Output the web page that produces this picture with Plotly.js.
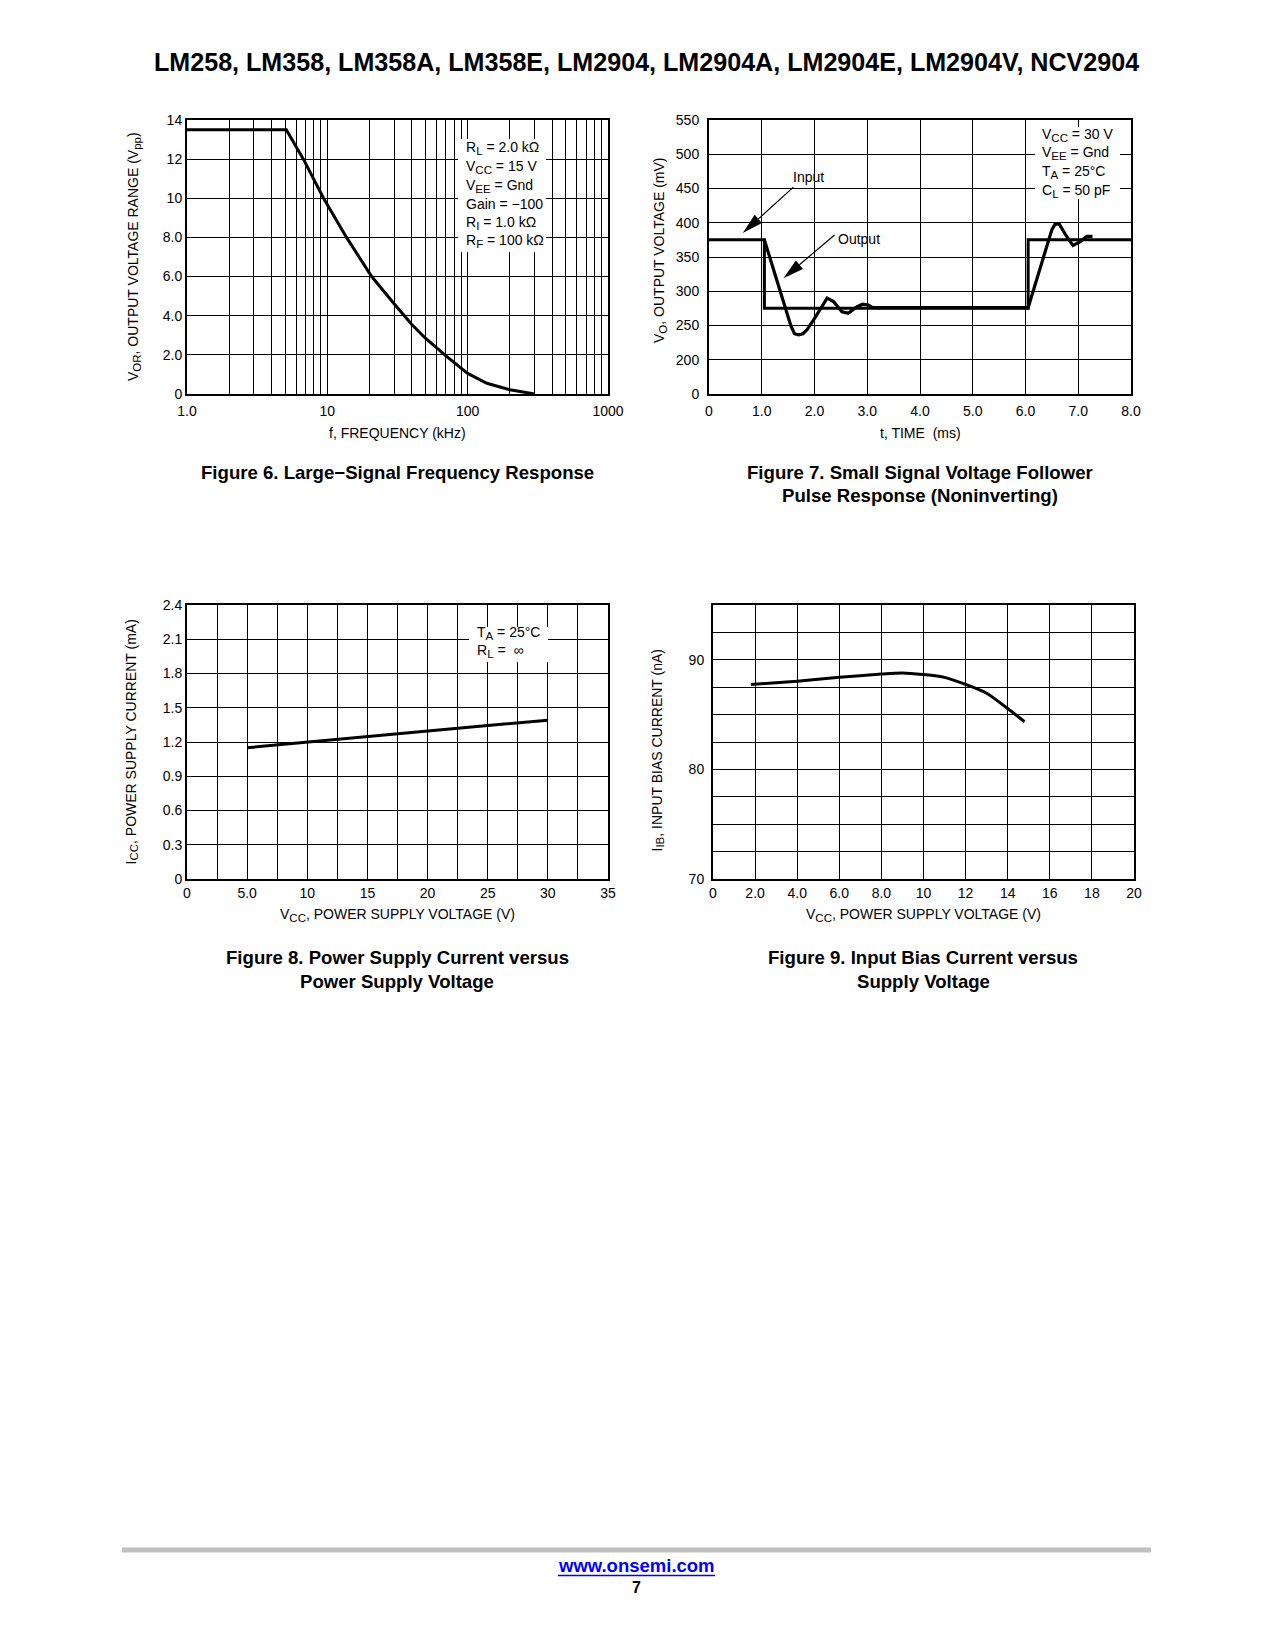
<!DOCTYPE html>
<html><head><meta charset="utf-8">
<script src="https://cdn.plot.ly/plotly-3.0.1.min.js"></script>
<style>html,body{margin:0;padding:0;background:#fff;}#chart{width:1275px;height:1650px;}</style>
</head><body><div id="chart"></div>
<script>
// ---------- DATA ----------
// Figure 6: Large-signal frequency response
const f6_freq = [1.0, 5.1, 6.75, 9.4, 13.7, 20.7, 30, 40, 50, 70, 100, 137, 200, 300];
const f6_vor  = [13.5, 13.5, 12.0, 10.0, 8.0, 6.0, 4.6, 3.55, 2.85, 1.95, 1.05, 0.55, 0.22, 0.0];
// Figure 7: Small signal voltage follower pulse response
const f7_t_in  = [0, 1.05, 1.05, 6.05, 6.05, 8.0];
const f7_v_in  = [375, 375, 275, 275, 375, 375];
const f7_t_out = [1.05, 1.55, 1.62, 1.7, 1.78, 1.85, 1.98, 2.14, 2.24, 2.36, 2.52, 2.64, 2.8, 2.91, 3.02, 3.1, 6.05, 6.5, 6.56, 6.64, 6.78, 6.9, 7.03, 7.16, 7.27];
const f7_v_out = [375, 250, 238, 236.5, 238, 243, 258, 277, 290, 285, 270, 268, 277, 281, 280, 276, 276, 390, 398, 398, 380, 367, 372, 380, 380];
// Figure 8: Power supply current vs supply voltage
const f8_vcc = [5, 10, 15, 20, 25, 30];
const f8_icc = [1.15, 1.20, 1.25, 1.30, 1.345, 1.39];
// Figure 9: Input bias current vs supply voltage
const f9_vcc = [1.8, 4.0, 6.0, 8.0, 9.0, 10.0, 11.0, 12.0, 13.0, 14.0, 14.8];
const f9_ib  = [87.75, 88.05, 88.4, 88.7, 88.8, 88.65, 88.4, 87.75, 86.95, 85.55, 84.35];

// ---------- TICKS ----------
const f6_xticks = [1, 10, 100, 1000];
const f6_xlabels = ["1.0", "10", "100", "1000"];
const f6_xminor = [2, 3, 4, 5, 6, 7, 8, 9, 20, 30, 40, 50, 60, 70, 80, 90, 200, 300, 400, 500, 600, 700, 800, 900];
const f6_yticks = [0, 2, 4, 6, 8, 10, 12, 14];
const f6_ylabels = ["0", "2.0", "4.0", "6.0", "8.0", "10", "12", "14"];
const f7_xticks = [0, 1, 2, 3, 4, 5, 6, 7, 8];
const f7_xlabels = ["0", "1.0", "2.0", "3.0", "4.0", "5.0", "6.0", "7.0", "8.0"];
const f7_yticks = [150, 200, 250, 300, 350, 400, 450, 500, 550];
const f7_ylabels = ["0", "200", "250", "300", "350", "400", "450", "500", "550"];
const f8_xticks = [0, 5, 10, 15, 20, 25, 30, 35];
const f8_xlabels = ["0", "5.0", "10", "15", "20", "25", "30", "35"];
const f8_xminor = [2.5, 7.5, 12.5, 17.5, 22.5, 27.5, 32.5];
const f8_yticks = [0, 0.3, 0.6, 0.9, 1.2, 1.5, 1.8, 2.1, 2.4];
const f8_ylabels = ["0", "0.3", "0.6", "0.9", "1.2", "1.5", "1.8", "2.1", "2.4"];
const f9_xticks = [0, 2, 4, 6, 8, 10, 12, 14, 16, 18, 20];
const f9_xlabels = ["0", "2.0", "4.0", "6.0", "8.0", "10", "12", "14", "16", "18", "20"];
const f9_yticks = [70, 80, 90];
const f9_ylabels = ["70", "80", "90"];
const f9_yminor = [72.5, 75, 77.5, 82.5, 85, 87.5, 92.5];

// ---------- LAYOUT HELPERS ----------
const W = 1275, H = 1650;
const FONT = "'Liberation Sans', Arial, Helvetica, sans-serif";
const px = x => x / W, py = y => 1 - y / H;
const dX = (a, b) => [px(a), px(b)];
const dY = (top, bot) => [py(bot), py(top)];
const S = s => `<sub><span style="font-size:11.5px">${s}</span></sub>`;

function minor(vals) {
  return {tickmode: 'array', tickvals: vals, showgrid: true, gridcolor: '#000', gridwidth: 1, ticks: ''};
}
function axis(dom, range, tv, tt, anchor, extra) {
  return Object.assign({
    domain: dom, range: range, tickmode: 'array', tickvals: tv, ticktext: tt,
    showgrid: true, gridcolor: '#000', gridwidth: 1, showline: true, mirror: true,
    linecolor: '#000', linewidth: 2, zeroline: false, ticks: '', anchor: anchor,
    tickfont: {family: FONT, size: 14, color: '#000'}, fixedrange: true
  }, extra || {});
}

const line = {color: '#000', width: 3};
const traces = [
  {x: f6_freq, y: f6_vor, xaxis: 'x', yaxis: 'y', mode: 'lines', line: line, hoverinfo: 'skip'},
  {x: f7_t_in, y: f7_v_in, xaxis: 'x2', yaxis: 'y2', mode: 'lines', line: line, hoverinfo: 'skip'},
  {x: f7_t_out, y: f7_v_out, xaxis: 'x2', yaxis: 'y2', mode: 'lines', line: {color: '#000', width: 3.2}, hoverinfo: 'skip'},
  {x: f8_vcc, y: f8_icc, xaxis: 'x3', yaxis: 'y3', mode: 'lines', line: line, hoverinfo: 'skip'},
  {x: f9_vcc, y: f9_ib, xaxis: 'x4', yaxis: 'y4', mode: 'lines', line: {color: '#000', width: 3, shape: 'spline', smoothing: 0.6}, hoverinfo: 'skip'}
];

const ann = [];
function T(x, y, text, o) {
  ann.push(Object.assign({xref: 'paper', yref: 'paper', x: px(x), y: py(y), text: text, showarrow: false,
    xanchor: 'center', yanchor: 'middle', font: {family: FONT, size: 14, color: '#000'}}, o || {}));
}

// header
T(646.5, 62, "<b>LM258, LM358, LM358A, LM358E, LM2904, LM2904A, LM2904E, LM2904V, NCV2904</b>", {font: {family: FONT, size: 25.1, color: '#000'}});
// captions
const capF = {font: {family: FONT, size: 18.6, color: '#000'}};
T(397, 472, "<b>Figure 6. Large\u2212Signal Frequency Response</b>", capF);
T(920, 472, "<b>Figure 7. Small Signal Voltage Follower</b>", capF);
T(920, 495.5, "<b>Pulse Response (Noninverting)</b>", capF);
T(397, 958, "<b>Figure 8. Power Supply Current versus</b>", capF);
T(397, 981.5, "<b>Power Supply Voltage</b>", capF);
T(923, 958, "<b>Figure 9. Input Bias Current versus</b>", capF);
T(923, 981.5, "<b>Supply Voltage</b>", capF);
// axis titles
T(397, 433, "f, FREQUENCY (kHz)");
T(134, 257, "V" + S("OR") + ", OUTPUT VOLTAGE RANGE (V" + S("pp") + ")", {textangle: -90});
T(920, 433, "t, TIME\u00a0\u00a0(ms)");
T(660, 250, "V" + S("O") + ", OUTPUT VOLTAGE (mV)", {textangle: -90});
T(397, 915, "V" + S("CC") + ", POWER SUPPLY VOLTAGE (V)");
T(131.5, 742, "I" + S("CC") + ", POWER SUPPLY CURRENT (mA)", {textangle: -90});
T(923, 915, "V" + S("CC") + ", POWER SUPPLY VOLTAGE (V)");
T(657.5, 750, "I" + S("IB") + ", INPUT BIAS CURRENT (nA)", {textangle: -90});
// condition boxes
const L = {xanchor: 'left'};
const f6_notes = ["R" + S("L") + " = 2.0 k\u03a9", "V" + S("CC") + " = 15 V", "V" + S("EE") + " = Gnd", "Gain = \u2212100", "R" + S("I") + " = 1.0 k\u03a9", "R" + S("F") + " = 100 k\u03a9"];
const f6_noteY = [148.5, 167, 185.5, 204, 222.5, 241];
f6_notes.forEach((s, i) => T(464, f6_noteY[i], s, L));
const f7_notes = ["V" + S("CC") + " = 30 V", "V" + S("EE") + " = Gnd", "T" + S("A") + " = 25\u00b0C", "C" + S("L") + " = 50 pF"];
const f7_noteY = [135, 153.5, 172, 190.5];
f7_notes.forEach((s, i) => T(1040, f7_noteY[i], s, L));
const f8_notes = ["T" + S("A") + " = 25\u00b0C", "R" + S("L") + " = \u00a0\u221e"];
const f8_noteY = [633, 651.5];
f8_notes.forEach((s, i) => T(475, f8_noteY[i], s, L));
// fig 7 labels
ann.push({xref: 'x2', yref: 'y2', x: 1.88, y: 467, text: "Input", showarrow: false, font: {family: FONT, size: 14, color: '#000'}});
ann.push({xref: 'x2', yref: 'y2', x: 2.85, y: 377, text: "Output", showarrow: false, font: {family: FONT, size: 14, color: '#000'}});
// footer
T(636.5, 1565.5, "<b>www.onsemi.com</b>", {font: {family: FONT, size: 18.5, color: '#0000ff'}});
T(636.5, 1587, "<b>7</b>", {font: {family: FONT, size: 16, color: '#000'}});

const R = (x0, y0, x1, y1) => ({type: 'rect', xref: 'paper', yref: 'paper', x0: px(x0), x1: px(x1), y0: py(y1), y1: py(y0), fillcolor: '#fff', line: {width: 0}, layer: 'above'});
const shapes = [
  R(458, 139, 546, 252),
  R(1035, 127, 1120, 199),
  R(469, 627, 548, 662),
  {type: 'line', xref: 'paper', yref: 'paper', x0: px(122), x1: px(1151), y0: py(1550), y1: py(1550), line: {color: '#c0c0c0', width: 5}},
  {type: 'line', xref: 'paper', yref: 'paper', x0: px(558), x1: px(715), y0: py(1575.5), y1: py(1575.5), line: {color: '#0000ff', width: 1.5}}
];

// fig 7 pointer arrows (data coords of head and tail -> pixel geometry)
const f7X = t => 709 + t * (1131 - 709) / 8;
const f7Y = v => 394 - (v - 150) * (394 - 120) / 400;
function arrow(ht, hv, tt, tv) {
  const hx = f7X(ht), hy = f7Y(hv), tx = f7X(tt), ty = f7Y(tv);
  const dx = tx - hx, dy = ty - hy, len = Math.hypot(dx, dy), ux = dx / len, uy = dy / len;
  const bx = hx + ux * 21, by = hy + uy * 21, nx = -uy, ny = ux, hw = 5.5;
  shapes.push({type: 'line', xref: 'paper', yref: 'paper', x0: px(tx), y0: py(ty), x1: px(bx), y1: py(by), line: {color: '#000', width: 1.2}, layer: 'above'});
  shapes.push({type: 'path', xref: 'paper', yref: 'paper', layer: 'above', fillcolor: '#000', line: {width: 0},
    path: `M ${px(hx)} ${py(hy)} L ${px(bx + nx * hw)} ${py(by + ny * hw)} L ${px(bx - nx * hw)} ${py(by - ny * hw)} Z`});
}
arrow(0.64, 385, 1.6, 452);
arrow(1.41, 319, 2.38, 382);

const layout = {
  width: W, height: H, margin: {l: 0, r: 0, t: 0, b: 0}, showlegend: false,
  paper_bgcolor: '#fff', plot_bgcolor: '#fff', font: {family: FONT, color: '#000'},
  xaxis: axis(dX(187, 608), [0, 3], f6_xticks, f6_xlabels, 'y', {type: 'log', minor: minor(f6_xminor), ticklabelstandoff: 3}),
  yaxis: axis(dY(120, 394), [0, 14], f6_yticks, f6_ylabels, 'x'),
  xaxis2: axis(dX(709, 1131), [0, 8], f7_xticks, f7_xlabels, 'y2', {ticklabelstandoff: 3}),
  yaxis2: axis(dY(120, 394), [150, 550], f7_yticks, f7_ylabels, 'x2', {ticklabelstandoff: 5}),
  xaxis3: axis(dX(187, 608), [0, 35], f8_xticks, f8_xlabels, 'y3', {minor: minor(f8_xminor)}),
  yaxis3: axis(dY(605, 879), [0, 2.4], f8_yticks, f8_ylabels, 'x3'),
  xaxis4: axis(dX(713, 1134), [0, 20], f9_xticks, f9_xlabels, 'y4'),
  yaxis4: axis(dY(605, 879), [70, 95], f9_yticks, f9_ylabels, 'x4', {minor: minor(f9_yminor), ticklabelstandoff: 4}),
  annotations: ann, shapes: shapes
};
Plotly.newPlot('chart', traces, layout, {displayModeBar: false, staticPlot: true});
</script></body></html>
